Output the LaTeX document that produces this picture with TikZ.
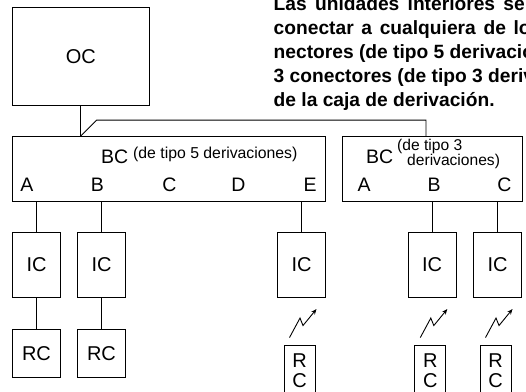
\documentclass[tikz,border=0pt]{standalone}
\usepackage{fontspec}
\setmainfont{Liberation Sans}
\usetikzlibrary{arrows.meta,calc}
\begin{document}
\begin{tikzpicture}[x=1pt,y=-1pt,
  box/.style={draw, line width=0.9pt, inner sep=0pt},
  lab/.style={font=\fontsize{20}{24}\selectfont},
  bcname/.style={font=\fontsize{19.5}{24}\selectfont, anchor=base west, inner sep=0pt},
  tap/.style={font=\fontsize{19.5}{22}\selectfont, anchor=base, inner sep=0pt},
  note/.style={font=\fontsize{15.8}{16}\selectfont, anchor=base west, inner sep=0pt},
  notesm/.style={font=\fontsize{15.6}{15}\selectfont, anchor=base west, inner sep=0pt},
  body/.style={font=\bfseries\fontsize{19.2}{24}\selectfont, anchor=base west, inner sep=0pt},
  wire/.style={line width=0.9pt},
  bolt/.style={line width=0.9pt, -{Stealth[length=5.5pt,width=4.5pt]}},
  icbox/.style={box, lab, minimum width=48pt, minimum height=65pt},
  rcbox/.style={box, lab, minimum width=48pt, minimum height=48pt},
  rcsmall/.style={box, align=center, font=\fontsize{20}{20}\selectfont, minimum width=31pt, minimum height=49.4pt},
]
\useasboundingbox (0,0) rectangle (526,391);

% explanatory text (cut by the picture's right edge)
\node[body] (t1) at (273.5,10) {\spaceskip=8.3pt Las unidades interiores se pueden};
\node[body] (t2) at (273.5,34) {\spaceskip=7.7pt conectar a cualquiera de los co-};
\node[body] (t3) at (273.5,58) {nectores (de tipo 5 derivaciones) o};
\node[body] (t4) at (273.5,82) {3 conectores (de tipo 3 derivaciones)};
\node[body] (t5) at (273.5,106) {de la caja de derivación.};

% outdoor unit
\node[box, lab, minimum width=136.5pt, minimum height=97.5pt] (oc) at (80.75,56.25) {OC};

% branch boxes
\node[box, minimum width=313pt, minimum height=64.5pt] (bc1) at (169,168.75) {};
\node[box, minimum width=179.5pt, minimum height=64.5pt] (bc2) at (432.25,168.75) {};

\node[bcname] (bc1name) at (101,163) {BC};
\node[note] (bc1type) at (133,158.5) {(de tipo 5 derivaciones)};
\node[bcname] (bc2name) at (366,163) {BC};
\node[notesm] (bc2typea) at (397,150.5) {(de tipo 3};
\node[notesm] (bc2typeb) at (407,165) {derivaciones)};

\node[tap] (p1a) at (27,191) {A};
\node[tap] (p1b) at (97.4,191) {B};
\node[tap] (p1c) at (169.4,191) {C};
\node[tap] (p1d) at (238.5,191) {D};
\node[tap] (p1e) at (310,191) {E};
\node[tap] (p2a) at (364,191) {A};
\node[tap] (p2b) at (434,191) {B};
\node[tap] (p2c) at (504.5,191) {C};

% indoor units
\node[icbox] (ic1) at (36.5,264.5) {IC};
\node[icbox] (ic2) at (101.5,264.5) {IC};
\node[icbox] (ic3) at (301.5,264.5) {IC};
\node[icbox] (ic4) at (432,264.5) {IC};
\node[icbox] (ic5) at (497.5,264.5) {IC};

% remote controllers
\node[rcbox] (rc1) at (36.5,353.5) {RC};
\node[rcbox] (rc2) at (101.5,353.5) {RC};
\node[rcsmall] (rc3) at (299.5,370.4) {R\\C};
\node[rcsmall] (rc4) at (430.3,370.4) {R\\C};
\node[rcsmall] (rc5) at (495.5,370.4) {R\\C};

% OC to branch boxes
\coordinate (j1) at (oc.south |- bc1.north);
\coordinate (j2) at ([xshift=-6.25pt]bc2.north);
\draw[wire] (oc.south) -- (j1);
\draw[wire] (j1) -- ++(16,-16) -| (j2);

% branch boxes to indoor units
\foreach \u in {ic1,ic2,ic3}{\draw[wire] (bc1.south -| \u.north) -- (\u.north);}
\foreach \u in {ic4,ic5}{\draw[wire] (bc2.south -| \u.north) -- (\u.north);}

% wired remote controllers
\draw[wire] (ic1) -- (rc1);
\draw[wire] (ic2) -- (rc2);

% wireless remote controllers
\foreach \r in {rc3,rc4,rc5}{
  \draw[bolt] ($(\r.north)+(-10,-7.7)$) -- ++(10.5,-19.5) -- ++(3,7.5) -- ++(13.5,-16.5);
}
\end{tikzpicture}
\end{document}
